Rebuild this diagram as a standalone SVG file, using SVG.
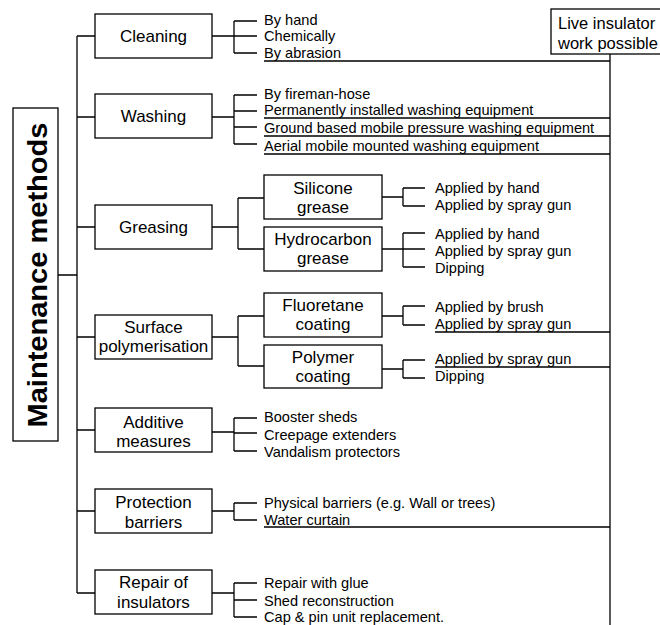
<svg xmlns="http://www.w3.org/2000/svg" width="660" height="625" viewBox="0 0 660 625">
<style>
.box{fill:#fff;stroke:#000;stroke-width:1.3}
.ln{fill:none;stroke:#000;stroke-width:1.3}
.t1{font-family:"Liberation Sans",Arial,sans-serif;font-size:17px;text-anchor:middle;fill:#000}
.t3{font-family:"Liberation Sans",Arial,sans-serif;font-size:14.6px;fill:#000}
.tt{font-family:"Liberation Sans",Arial,sans-serif;font-size:27px;font-weight:bold;text-anchor:middle;fill:#000}
.tl{font-family:"Liberation Sans",Arial,sans-serif;font-size:16.5px;fill:#000}
</style>
<rect width="660" height="625" fill="#fff"/>
<g id="connectors">
<path class="ln" d="M58 275H77M77 36V593M77 36H95M77 117H95M77 227H95M77 337H95M77 430H95M77 511H95M77 593H95"/>
<path class="ln" d="M212 36H234M234 21V53M234 21H257M234 36H257M234 53H257"/>
<path class="ln" d="M212 117H234M234 95V144M234 95H257M234 111H257M234 127H257M234 144H257"/>
<path class="ln" d="M212 227H238M238 198V249M238 198H264M238 249H264"/>
<path class="ln" d="M382 197H403M403 188V206M403 188H425M403 206H425"/>
<path class="ln" d="M382 249H403M403 233V267M403 233H425M403 249H425M403 267H425"/>
<path class="ln" d="M212 337H238M238 316V366M238 316H264M238 366H264"/>
<path class="ln" d="M382 316H403M403 306V325M403 306H425M403 325H425"/>
<path class="ln" d="M382 369H403M403 360V378M403 360H425M403 378H425"/>
<path class="ln" d="M212 432H234M234 418V451M234 418H257M234 433H257M234 451H257"/>
<path class="ln" d="M212 511H234M234 503V520M234 503H257M234 520H257"/>
<path class="ln" d="M212 593H234M234 583V617M234 583H257M234 600H257M234 617H257"/>
<path class="ln" d="M610 54V625M264 61H610M264 118H610M264 136H610M264 154H610M435 332H610M435 367H610M264 527H610"/>
</g>
<g id="title">
<rect class="box" x="13" y="108" width="45" height="333"/>
<text class="tt" transform="translate(47,275) rotate(-90)" textLength="305" lengthAdjust="spacingAndGlyphs">Maintenance methods</text>
</g>
<g id="live">
<rect class="box" x="551" y="9" width="120" height="45"/>
<text class="tl" x="558" y="29">Live insulator</text>
<text class="tl" x="558" y="49">work possible</text>
</g>
<g id="cleaning">
<rect class="box" x="95" y="14" width="117" height="44"/>
<text class="t1" x="153.5" y="42">Cleaning</text>
<text class="t3" x="264" y="25">By hand</text>
<text class="t3" x="264" y="41">Chemically</text>
<text class="t3" x="264" y="58">By abrasion</text>
</g>
<g id="washing">
<rect class="box" x="95" y="94" width="117" height="44"/>
<text class="t1" x="153.5" y="122">Washing</text>
<text class="t3" x="264" y="99">By fireman-hose</text>
<text class="t3" x="264" y="115">Permanently installed washing equipment</text>
<text class="t3" x="264" y="133">Ground based mobile pressure washing equipment</text>
<text class="t3" x="264" y="151">Aerial mobile mounted washing equipment</text>
</g>
<g id="greasing">
<rect class="box" x="95" y="205" width="117" height="44"/>
<text class="t1" x="153.5" y="233">Greasing</text>
</g>
<g id="silicone">
<rect class="box" x="264" y="175" width="118" height="44"/>
<text class="t1" x="323" y="194">Silicone</text>
<text class="t1" x="323" y="213">grease</text>
<text class="t3" x="435" y="193">Applied by hand</text>
<text class="t3" x="435" y="210">Applied by spray gun</text>
</g>
<g id="hydrocarbon">
<rect class="box" x="264" y="227" width="118" height="44"/>
<text class="t1" x="323" y="245">Hydrocarbon</text>
<text class="t1" x="323" y="264">grease</text>
<text class="t3" x="435" y="239">Applied by hand</text>
<text class="t3" x="435" y="256">Applied by spray gun</text>
<text class="t3" x="435" y="273">Dipping</text>
</g>
<g id="surface">
<rect class="box" x="95" y="315" width="117" height="44"/>
<text class="t1" x="153.5" y="333">Surface</text>
<text class="t1" x="153.5" y="352">polymerisation</text>
</g>
<g id="fluoretane">
<rect class="box" x="264" y="293" width="118" height="44"/>
<text class="t1" x="323" y="311">Fluoretane</text>
<text class="t1" x="323" y="330">coating</text>
<text class="t3" x="435" y="312">Applied by brush</text>
<text class="t3" x="435" y="329">Applied by spray gun</text>
</g>
<g id="polymer">
<rect class="box" x="264" y="345" width="118" height="43"/>
<text class="t1" x="323" y="363">Polymer</text>
<text class="t1" x="323" y="382">coating</text>
<text class="t3" x="435" y="364">Applied by spray gun</text>
<text class="t3" x="435" y="381">Dipping</text>
</g>
<g id="additive">
<rect class="box" x="95" y="408" width="117" height="44"/>
<text class="t1" x="153.5" y="428">Additive</text>
<text class="t1" x="153.5" y="447">measures</text>
<text class="t3" x="264" y="422">Booster sheds</text>
<text class="t3" x="264" y="440">Creepage extenders</text>
<text class="t3" x="264" y="457">Vandalism protectors</text>
</g>
<g id="protection">
<rect class="box" x="95" y="489" width="117" height="44"/>
<text class="t1" x="153.5" y="508">Protection</text>
<text class="t1" x="153.5" y="528">barriers</text>
<text class="t3" x="264" y="508">Physical barriers (e.g. Wall or trees)</text>
<text class="t3" x="264" y="525">Water curtain</text>
</g>
<g id="repair">
<rect class="box" x="95" y="570" width="117" height="44"/>
<text class="t1" x="153.5" y="588">Repair of</text>
<text class="t1" x="153.5" y="608">insulators</text>
<text class="t3" x="264" y="588">Repair with glue</text>
<text class="t3" x="264" y="606">Shed reconstruction</text>
<text class="t3" x="264" y="622">Cap &amp; pin unit replacement.</text>
</g>
</svg>
